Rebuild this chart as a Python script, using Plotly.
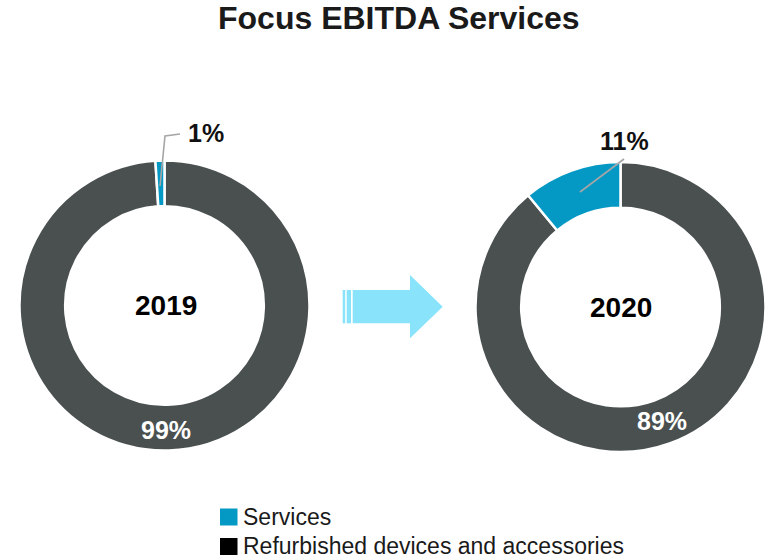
import plotly.graph_objects as go

# Segment data for each year's EBITDA split
segments = ["Services", "Refurbished devices and accessories"]
years = ["2019", "2020"]
share_2019 = [1, 99]
share_2020 = [11, 89]

SERVICES_COLOR = "#0499c5"
DEVICES_COLOR = "#4a5050"
LEGEND_COLORS = [SERVICES_COLOR, "#000000"]
ARROW_COLOR = "#88e3fb"
LEADER_COLOR = "#a6a6a6"
FONT = "Liberation Sans, Arial, sans-serif"

W, H = 766, 558


def px(x):
    return x / W


def py(y):
    return 1 - y / H


fig = go.Figure()

# Donut domains (pixel boxes converted to paper coordinates).
# Slices run clockwise from 12 o'clock with Services last, so the
# Services wedge sits just to the left of the top.
donuts = [
    (share_2019, (19.5, 309.5), (160.5, 450.5)),
    (share_2020, (475.5, 765.5), (162, 452)),
]
for values, (x0, x1), (y0, y1) in donuts:
    fig.add_trace(go.Pie(
        labels=segments[::-1],
        values=values[::-1],
        hole=0.685,
        sort=False,
        direction="clockwise",
        rotation=0,
        textinfo="none",
        hoverinfo="label+percent",
        showlegend=False,
        marker=dict(colors=[DEVICES_COLOR, SERVICES_COLOR],
                    line=dict(color="white", width=2.5)),
        domain=dict(x=[px(x0), px(x1)], y=[py(y1), py(y0)]),
    ))

annotations = []
shapes = []

# Title
annotations.append(dict(
    x=px(399), y=py(18), xref="paper", yref="paper",
    text="<b>Focus EBITDA Services</b>", showarrow=False,
    font=dict(family=FONT, size=32, color="#1a1a1a"),
    xanchor="center", yanchor="middle",
))

# Year labels in the donut holes
for yr, (cx, cy) in zip(years, [(166, 305), (621, 307)]):
    annotations.append(dict(
        x=px(cx), y=py(cy), xref="paper", yref="paper",
        text=f"<b>{yr}</b>", showarrow=False,
        font=dict(family=FONT, size=28, color="#000000"),
        xanchor="center", yanchor="middle",
    ))

# Share labels: services outside with leader lines, devices inside the ring
label_pos = [
    dict(svc=(206, 133), dev=(166, 430)),
    dict(svc=(624, 141), dev=(662, 421)),
]
for values, pos in zip([share_2019, share_2020], label_pos):
    annotations.append(dict(
        x=px(pos["svc"][0]), y=py(pos["svc"][1]), xref="paper", yref="paper",
        text=f"<b>{values[0]}%</b>", showarrow=False,
        font=dict(family=FONT, size=25, color="#111111"),
        xanchor="center", yanchor="middle",
    ))
    annotations.append(dict(
        x=px(pos["dev"][0]), y=py(pos["dev"][1]), xref="paper", yref="paper",
        text=f"<b>{values[1]}%</b>", showarrow=False,
        font=dict(family=FONT, size=25, color="#ffffff"),
        xanchor="center", yanchor="middle",
    ))

# Leader lines for the services labels
leader_2019 = f"M {px(160)} {py(186)} L {px(165)} {py(136)} L {px(180)} {py(134)}"
leader_2020 = f"M {px(580)} {py(192)} L {px(624)} {py(159)}"
for path in (leader_2019, leader_2020):
    shapes.append(dict(type="path", xref="paper", yref="paper", path=path,
                       line=dict(color=LEADER_COLOR, width=1.6)))

# Arrow between the two years
arrow = (
    f"M {px(352.7)} {py(290)} L {px(410)} {py(290)} L {px(410)} {py(275)} "
    f"L {px(442.7)} {py(306.7)} L {px(410)} {py(338.3)} L {px(410)} {py(323.3)} "
    f"L {px(352.7)} {py(323.3)} Z"
)
shapes.append(dict(type="path", xref="paper", yref="paper", path=arrow,
                   fillcolor=ARROW_COLOR, line=dict(width=0)))
for sx0, sx1 in [(342.7, 345.2), (346.7, 351)]:
    shapes.append(dict(type="rect", xref="paper", yref="paper",
                       x0=px(sx0), x1=px(sx1), y0=py(323.3), y1=py(290),
                       fillcolor=ARROW_COLOR, line=dict(width=0)))

# Legend drawn as swatches plus text
for i, (name, col) in enumerate(zip(segments, LEGEND_COLORS)):
    ytop = 508.5 + i * 29.5
    shapes.append(dict(type="rect", xref="paper", yref="paper",
                       x0=px(220), x1=px(237.5), y0=py(ytop + 17), y1=py(ytop),
                       fillcolor=col, line=dict(width=0)))
    annotations.append(dict(
        x=px(241), y=py(ytop + 8.5 - i), xref="paper", yref="paper",
        text=name, showarrow=False,
        font=dict(family=FONT, size=23, color="#1a1a1a"),
        xanchor="left", yanchor="middle",
    ))

fig.update_layout(
    width=W, height=H, autosize=False,
    margin=dict(l=0, r=0, t=0, b=0),
    paper_bgcolor="white", plot_bgcolor="white",
    annotations=annotations, shapes=shapes,
    showlegend=False,
)

fig.write_html("out.html")
